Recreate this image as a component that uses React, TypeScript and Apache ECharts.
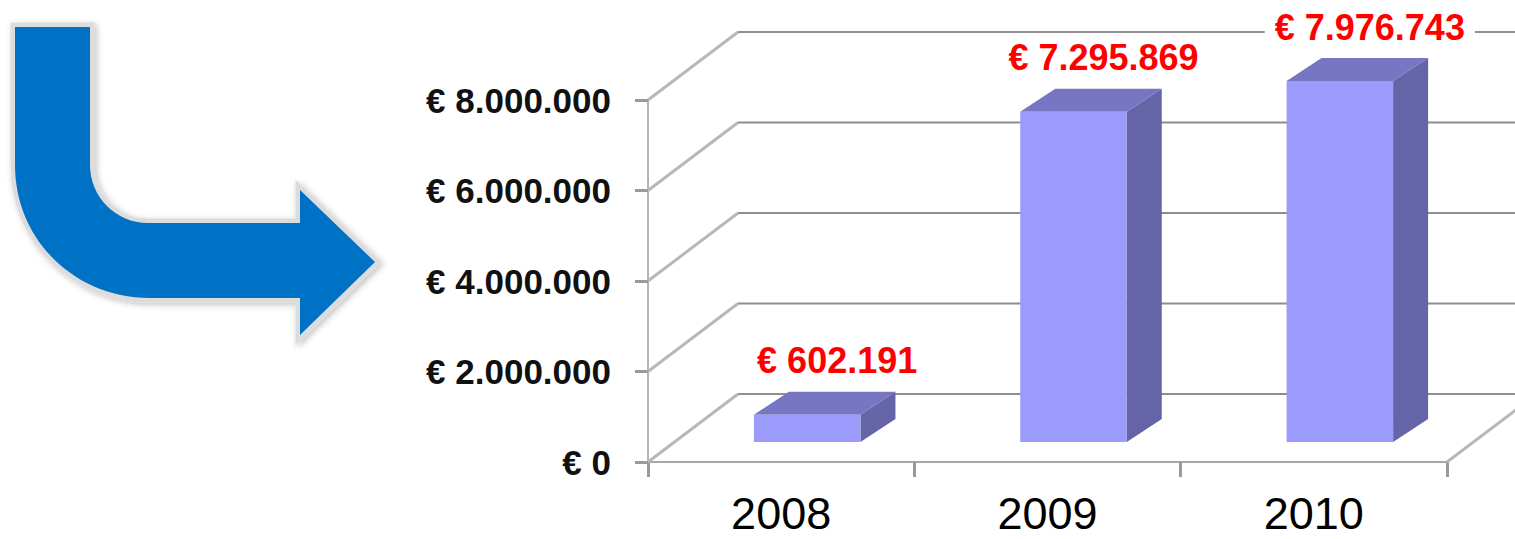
import React, { useEffect, useRef } from 'react';
import * as echarts from 'echarts';

const categories = ['2008', '2009', '2010'];
const revenue = [602191, 7295869, 7976743];
const yTicks = [0, 2000000, 4000000, 6000000, 8000000];

const fmtEuro = (v: number) =>
  '€ ' + String(Math.round(v)).replace(/\B(?=(\d{3})+(?!\d))/g, '.');

const ARROW_D =
  'M15,27 L90,27 L90,165 C90,197 116,223 148,223 L300,223 L300,190 L375,262 L300,335 L300,298 L150,298 C75,298 15,240 15,165 Z';

let registered = false;
function ensureShape() {
  if (registered) return;
  echarts.graphic.registerShape('bendArrow', echarts.graphic.extendPath(ARROW_D, {}) as any);
  registered = true;
}

// 3D projection constants (pixels)
const DX = 90;
const DY = 68;
const OFF_X = 26;
const OFF_Y = 20;
const BDX = 35;
const BDY = 23;

export default function App() {
  const ref = useRef<HTMLDivElement>(null);
  useEffect(() => {
    document.body.style.margin = '0';
    ensureShape();
    const chart = echarts.init(ref.current!, undefined, { renderer: 'svg' });
    const option: any = {
      animation: false,
      backgroundColor: '#ffffff',
      grid: { left: 648, right: 68, top: 100, bottom: 77, containLabel: false },
      xAxis: {
        type: 'category',
        data: categories,
        boundaryGap: true,
        axisLine: { show: true, lineStyle: { color: '#a8a8a8', width: 2 } },
        axisTick: { show: true, length: 15, lineStyle: { color: '#9a9a9a', width: 3 } },
        axisLabel: { fontSize: 45, color: '#000', fontFamily: 'Arial, Liberation Sans', margin: 29 },
      },
      yAxis: {
        type: 'value',
        min: 0,
        max: 8000000,
        interval: 2000000,
        axisLine: { show: true, lineStyle: { color: '#b4b4b4', width: 2 } },
        axisTick: { show: true, length: 13, lineStyle: { color: '#9a9a9a', width: 3 } },
        splitLine: { show: false },
        axisLabel: {
          formatter: (v: number) => fmtEuro(v),
          fontSize: 35,
          fontWeight: 'bold',
          color: '#111',
          fontFamily: 'Arial, Liberation Sans',
          margin: 37,
        },
      },
      graphic: [
        {
          type: 'bendArrow',
          x: 0,
          y: 0,
          z: 1,
          style: {
            fill: '#dcdcdc',
            stroke: '#dcdcdc',
            lineWidth: 9,
            shadowBlur: 6,
            shadowColor: 'rgba(0,0,0,0.25)',
            shadowOffsetX: 2,
            shadowOffsetY: 2,
          },
        },
        {
          type: 'bendArrow',
          x: 0,
          y: 0,
          z: 2,
          style: { fill: '#0072c6' },
        },
      ],
      series: [
        {
          type: 'custom',
          clip: false,
          silent: true,
          z: 1,
          data: [[0, 0]],
          renderItem: (params: any, api: any) => {
            const bw = api.size([1, 0])[0];
            const left = api.coord([0, 0])[0] - bw / 2;
            const right = api.coord([categories.length - 1, 0])[0] + bw / 2;
            const children: any[] = [];
            yTicks.forEach((v) => {
              const y = api.coord([0, v])[1];
              children.push({
                type: 'line',
                shape: { x1: left, y1: y, x2: left + DX, y2: y - DY },
                style: { stroke: '#b8b8b8', lineWidth: 3 },
              });
              children.push({
                type: 'line',
                shape: { x1: left + DX, y1: y - DY, x2: right + DX, y2: y - DY },
                style: { stroke: '#8e8e8e', lineWidth: 2 },
              });
            });
            const y0 = api.coord([0, 0])[1];
            children.push({
              type: 'line',
              shape: { x1: right, y1: y0, x2: right + DX, y2: y0 - DY },
              style: { stroke: '#b8b8b8', lineWidth: 3 },
            });
            return { type: 'group', children };
          },
        },
        {
          type: 'custom',
          clip: false,
          z: 3,
          data: categories.map((c, i) => [i, revenue[i]]),
          renderItem: (params: any, api: any) => {
            const idx = api.value(0);
            const v = api.value(1);
            const p = api.coord([idx, v]);
            const y0 = api.coord([idx, 0])[1];
            const bw = api.size([1, 0])[0] * 0.4;
            const fx = p[0] - bw / 2 + OFF_X;
            const fr = fx + bw;
            const ft = p[1] - OFF_Y;
            const fb = y0 - OFF_Y;
            return {
              type: 'group',
              children: [
                {
                  type: 'polygon',
                  shape: { points: [[fr, ft], [fr + BDX, ft - BDY], [fr + BDX, fb - BDY], [fr, fb]] },
                  style: { fill: '#6464a6' },
                },
                {
                  type: 'polygon',
                  shape: { points: [[fx, ft], [fx + BDX, ft - BDY], [fr + BDX, ft - BDY], [fr, ft]] },
                  style: { fill: '#7676c2' },
                },
                {
                  type: 'rect',
                  shape: { x: fx, y: ft, width: bw, height: fb - ft },
                  style: { fill: '#9b9bfc' },
                },
                {
                  type: 'text',
                  x: p[0] + OFF_X + 30,
                  y: ft - BDY - 31,
                  style: {
                    text: fmtEuro(v),
                    fill: '#ff0000',
                    font: 'bold 36px Arial, Liberation Sans',
                    align: 'center',
                    verticalAlign: 'middle',
                    backgroundColor: '#ffffff',
                    padding: [2, 10],
                  },
                },
              ],
            };
          },
        },
      ],
    };
    chart.setOption(option);
    return () => chart.dispose();
  }, []);
  return <div ref={ref} style={{ width: 1515, height: 539 }} />;
}
